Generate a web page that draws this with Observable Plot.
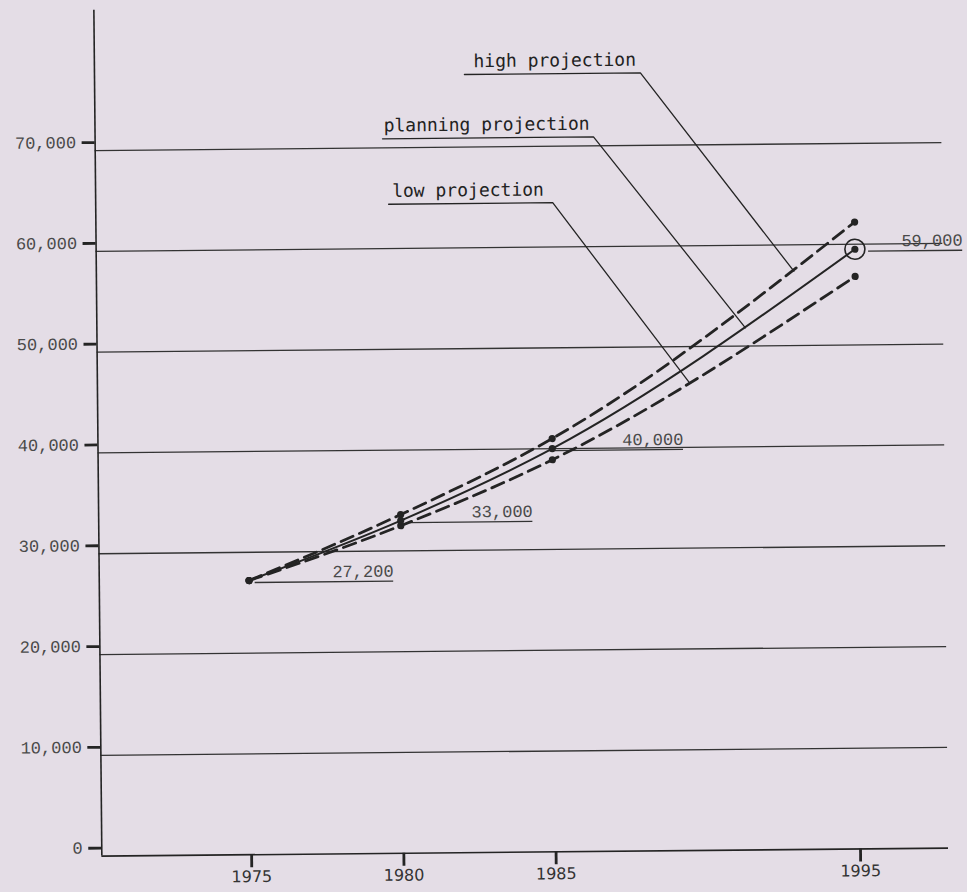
<!DOCTYPE html>
<html>
<head>
<meta charset="utf-8">
<script src="https://cdn.jsdelivr.net/npm/d3@7"></script>
<script src="https://cdn.jsdelivr.net/npm/@observablehq/plot@0.6"></script>
<style>
  html, body { margin: 0; padding: 0; background: #e4dde6; overflow: hidden; }
  #chart svg { display: block; transform: rotate(-0.54deg); transform-origin: 50% 50%; }
</style>
</head>
<body>
<div id="chart"></div>
<script>
// ---- data ----
const years = [1975, 1980, 1985, 1995];
const highValues = [27200, 33600, 41000, 62200];
const planningValues = [27200, 33000, 40000, 59500];
const lowValues = [27200, 32500, 38900, 56800];

const yTicks = [0, 10000, 20000, 30000, 40000, 50000, 60000, 70000];
const yTickLabels = ["0", "10,000", "20,000", "30,000", "40,000", "50,000", "60,000", "70,000"];
const xTickLabels = ["1975", "1980", "1985", "1995"];

const valueLabels = ["27,200", "33,000", "40,000", "59,000"];
const seriesNames = ["high projection", "planning projection", "low projection"];

// ---- annotation anchors (data units) ----
const legendLineValue = [77200, 70900, 64400];
const legendLineStart = [1982.23, 1979.52, 1979.70];
const legendLineEnd = [1988.01, 1986.45, 1985.09];
const legendTextStart = [1982.53, 1979.56, 1979.82];
const leaderEndYear = [1992.99, 1991.38, 1989.51];
const leaderEndValue = [57380, 51810, 46470];
const valueLineStart = [1975.2, 1980.3, 1985.1, 1995.45];
const valueLineEnd = [1979.75, 1984.34, 1989.31, 1998.54];

// ---- derived tables ----
const toRows = (vals) => years.map((year, i) => ({year, value: vals[i]}));
const high = toRows(highValues);
const planning = toRows(planningValues);
const low = toRows(lowValues);

const leaderPaths = seriesNames.flatMap((name, i) => [
  {name, year: legendLineStart[i], value: legendLineValue[i]},
  {name, year: legendLineEnd[i], value: legendLineValue[i]},
  {name, year: leaderEndYear[i], value: leaderEndValue[i]}
]);
const legendTexts = seriesNames.map((name, i) => ({name, year: legendTextStart[i], value: legendLineValue[i]}));
const valueNotes = planning.map((d, i) => ({...d, label: valueLabels[i], x1: valueLineStart[i], x2: valueLineEnd[i]}));

const ink = "#242424";
const typeInk = "#4a4a4a";
const monoType = "'Liberation Mono', 'DejaVu Sans Mono', monospace";

const chart = Plot.plot({
  width: 967,
  height: 892,
  marginLeft: 97.5,
  marginRight: 22.8,
  marginTop: 6,
  marginBottom: 40,
  style: {background: "transparent", overflow: "visible"},
  x: {domain: [1970.08, 1997.89], label: null},
  y: {domain: [0, 83930], label: null},
  marks: [
    // gridlines
    Plot.ruleY(yTicks.filter(d => d > 0), {stroke: "#333", strokeWidth: 1.3}),
    // axes lines
    Plot.ruleY([0], {stroke: ink, strokeWidth: 1.6}),
    Plot.ruleX([1970.08], {stroke: ink, strokeWidth: 1.6}),
    Plot.axisY(yTicks, {
      tickSize: 13, tickPadding: 6, strokeWidth: 2.8, stroke: ink,
      tickFormat: d => yTickLabels[yTicks.indexOf(d)],
      fontFamily: monoType, fontSize: 17, fill: typeInk, dy: -8, label: null
    }),
    Plot.axisX(years, {
      tickSize: 13, tickPadding: 3, strokeWidth: 2.8, stroke: ink,
      tickFormat: d => xTickLabels[years.indexOf(d)],
      fontFamily: "'DejaVu Sans', sans-serif", fontSize: 16, fill: "#333", label: null
    }),
    // value annotations
    Plot.ruleY(valueNotes, {y: "value", x1: "x1", x2: "x2", dy: 2, stroke: "#333", strokeWidth: 1.3}),
    Plot.text(valueNotes, {
      x: "x2", y: "value", text: "label", textAnchor: "end", dy: -8,
      fontFamily: monoType, fontSize: 17, fill: typeInk
    }),
    // legend leaders
    Plot.line(leaderPaths, {x: "year", y: "value", z: "name", stroke: ink, strokeWidth: 1.3}),
    Plot.text(legendTexts, {
      x: "year", y: "value", text: "name", textAnchor: "start", dy: -13,
      fontFamily: "'DejaVu Sans Mono', monospace", fontSize: 18, fill: "#222"
    }),
    // series
    Plot.line(high, {x: "year", y: "value", curve: "monotone-x", stroke: ink, strokeWidth: 2.8, strokeDasharray: "13,7"}),
    Plot.line(low, {x: "year", y: "value", curve: "monotone-x", stroke: ink, strokeWidth: 2.8, strokeDasharray: "13,7"}),
    Plot.line(planning, {x: "year", y: "value", curve: "monotone-x", stroke: ink, strokeWidth: 2}),
    Plot.dot(high, {x: "year", y: "value", r: 3.6, fill: ink}),
    Plot.dot(low, {x: "year", y: "value", r: 3.6, fill: ink}),
    Plot.dot(planning, {x: "year", y: "value", r: 3.6, fill: ink}),
    Plot.dot(planning.slice(-1), {x: "year", y: "value", r: 10, stroke: ink, strokeWidth: 1.6, fill: "none"})
  ]
});
document.getElementById("chart").appendChild(chart);
</script>
</body>
</html>
